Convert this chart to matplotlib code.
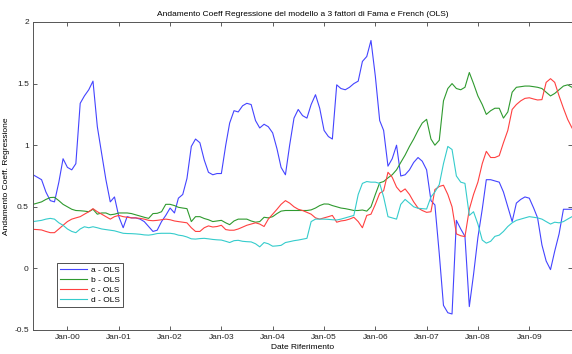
import numpy as np
import pandas as pd
import matplotlib
matplotlib.use('Agg')
import matplotlib.pyplot as plt
import matplotlib.dates as mdates

# monthly regression coefficients, May 1999 - Nov 2009
dates = pd.date_range('1999-05-01', periods=127, freq='MS')

coef_a = [0.76, 0.74, 0.72, 0.62, 0.55, 0.54, 0.70, 0.89, 0.82, 0.80,
          0.85, 1.34, 1.40, 1.45, 1.52, 1.15, 0.93, 0.72, 0.54, 0.58,
          0.42, 0.33, 0.42, 0.41, 0.41, 0.40, 0.38, 0.34, 0.30, 0.31,
          0.38, 0.43, 0.49, 0.45, 0.57, 0.60, 0.73, 0.99, 1.05, 1.02,
          0.88, 0.78, 0.76, 0.77, 0.77, 1.00, 1.18, 1.28, 1.27, 1.32,
          1.34, 1.33, 1.20, 1.14, 1.17, 1.15, 1.10, 0.97, 0.82, 0.76,
          1.00, 1.22, 1.29, 1.24, 1.22, 1.33, 1.41, 1.30, 1.12, 1.07,
          1.05, 1.49, 1.46, 1.45, 1.47, 1.50, 1.52, 1.68, 1.72, 1.85,
          1.56, 1.20, 1.12, 0.83, 0.89, 1.00, 0.75, 0.76, 0.80, 0.86,
          0.90, 0.87, 0.80, 0.55, 0.515, 0.12, -0.30, -0.36, -0.37, 0.39,
          0.32, 0.26, -0.31, -0.05, 0.25, 0.48, 0.72, 0.72, 0.71, 0.70,
          0.62, 0.50, 0.38, 0.53, 0.56, 0.58, 0.57, 0.49, 0.41, 0.19,
          0.06, -0.01, 0.14, 0.28, 0.48, 0.48, 0.48]

coef_b = [0.52, 0.53, 0.54, 0.56, 0.575, 0.577, 0.55, 0.52, 0.50, 0.48,
          0.47, 0.468, 0.465, 0.46, 0.48, 0.44, 0.45, 0.45, 0.435, 0.44,
          0.45, 0.45, 0.45, 0.445, 0.435, 0.425, 0.415, 0.406, 0.445, 0.447,
          0.46, 0.52, 0.52, 0.51, 0.496, 0.49, 0.485, 0.38, 0.42, 0.42,
          0.405, 0.395, 0.38, 0.385, 0.39, 0.37, 0.355, 0.385, 0.40, 0.40,
          0.40, 0.385, 0.375, 0.38, 0.415, 0.41, 0.42, 0.445, 0.465, 0.47,
          0.47, 0.47, 0.47, 0.47, 0.47, 0.475, 0.49, 0.51, 0.523, 0.522,
          0.51, 0.50, 0.49, 0.485, 0.478, 0.47, 0.47, 0.474, 0.465, 0.50,
          0.60, 0.695, 0.705, 0.735, 0.76, 0.80, 0.86, 0.92, 0.99, 1.05,
          1.12, 1.18, 1.21, 1.05, 1.00, 1.04, 1.36, 1.46, 1.50, 1.46,
          1.45, 1.47, 1.59, 1.50, 1.40, 1.33, 1.25, 1.28, 1.30, 1.30,
          1.22, 1.27, 1.43, 1.47, 1.475, 1.48, 1.48, 1.475, 1.47, 1.46,
          1.43, 1.40, 1.42, 1.45, 1.48, 1.49, 1.47]

coef_c = [0.317, 0.315, 0.312, 0.30, 0.29, 0.29, 0.32, 0.35, 0.38, 0.40,
          0.41, 0.42, 0.44, 0.46, 0.485, 0.46, 0.44, 0.42, 0.40, 0.42,
          0.43, 0.42, 0.415, 0.41, 0.41, 0.406, 0.40, 0.39, 0.387, 0.39,
          0.395, 0.40, 0.395, 0.385, 0.38, 0.375, 0.37, 0.33, 0.30, 0.30,
          0.33, 0.345, 0.336, 0.34, 0.35, 0.315, 0.31, 0.31, 0.32, 0.335,
          0.35, 0.36, 0.37, 0.36, 0.34, 0.40, 0.44, 0.48, 0.52, 0.55,
          0.53, 0.50, 0.48, 0.47, 0.455, 0.44, 0.41, 0.40, 0.41, 0.42,
          0.43, 0.375, 0.385, 0.39, 0.40, 0.415, 0.38, 0.33, 0.43, 0.44,
          0.52, 0.61, 0.63, 0.78, 0.74, 0.66, 0.62, 0.645, 0.60, 0.54,
          0.49, 0.47, 0.455, 0.46, 0.64, 0.665, 0.675, 0.60, 0.50, 0.28,
          0.265, 0.258, 0.48, 0.60, 0.70, 0.85, 0.95, 0.90, 0.90, 0.915,
          1.02, 1.12, 1.29, 1.33, 1.36, 1.38, 1.385, 1.375, 1.367, 1.37,
          1.51, 1.54, 1.51, 1.40, 1.30, 1.21, 1.14]

coef_d = [0.38, 0.385, 0.39, 0.40, 0.406, 0.40, 0.37, 0.35, 0.32, 0.30,
          0.29, 0.32, 0.338, 0.33, 0.338, 0.33, 0.32, 0.315, 0.31, 0.305,
          0.295, 0.285, 0.283, 0.282, 0.28, 0.277, 0.272, 0.27, 0.275, 0.283,
          0.285, 0.285, 0.285, 0.28, 0.27, 0.265, 0.255, 0.24, 0.238, 0.242,
          0.244, 0.24, 0.235, 0.232, 0.23, 0.22, 0.21, 0.225, 0.228, 0.22,
          0.217, 0.215, 0.20, 0.175, 0.21, 0.20, 0.18, 0.183, 0.187, 0.21,
          0.217, 0.225, 0.23, 0.237, 0.244, 0.38, 0.40, 0.40, 0.40, 0.398,
          0.395, 0.393, 0.40, 0.41, 0.42, 0.43, 0.60, 0.69, 0.705, 0.70,
          0.70, 0.69, 0.58, 0.42, 0.41, 0.40, 0.52, 0.56, 0.53, 0.50,
          0.488, 0.485, 0.482, 0.58, 0.62, 0.68, 0.85, 0.99, 0.965, 0.75,
          0.70, 0.69, 0.43, 0.46, 0.36, 0.23, 0.205, 0.22, 0.26, 0.27,
          0.30, 0.34, 0.37, 0.39, 0.40, 0.41, 0.42, 0.415, 0.41, 0.40,
          0.38, 0.36, 0.375, 0.37, 0.38, 0.40, 0.42]

series_names = ['a - OLS', 'b - OLS', 'c - OLS', 'd - OLS']
series_colors = ['#4444ff', '#2f9a2f', '#ff4040', '#35cccc']

ytick_values = [-0.5, 0, 0.5, 1, 1.5, 2]
ytick_labels = ['-0.5', '0', '0.5', '1', '1.5', '2']
xtick_years = list(range(2000, 2010))

plt.rcParams['font.family'] = ['Liberation Sans', 'DejaVu Sans']
plt.rcParams['font.size'] = 6

fig = plt.figure(figsize=(5.72, 3.54), dpi=100)
fig.patch.set_facecolor('white')
ax = fig.add_axes([33 / 572, 24 / 354, 539 / 572, 308 / 354])

for vals, name, col in zip([coef_a, coef_b, coef_c, coef_d], series_names, series_colors):
    ax.plot(dates, vals, color=col, linewidth=0.8, label=name)

ax.set_xlim(dates[0], dates[-1])
ax.set_ylim(-0.5, 2)
ax.set_yticks(ytick_values)
ax.set_yticklabels(ytick_labels)
ax.set_xticks([pd.Timestamp(year=y, month=1, day=1) for y in xtick_years])
ax.xaxis.set_major_formatter(mdates.DateFormatter('%b-%y'))

ax.tick_params(direction='in', length=3, width=0.6, colors='#444444',
               labelcolor='#222222', top=True, right=True, pad=3)
for sp in ax.spines.values():
    sp.set_color('#555555')
    sp.set_linewidth(0.7)

ax.set_title('Andamento Coeff Regressione del modello a 3 fattori di Fama e French (OLS)',
             fontsize=6, pad=4)
ax.set_xlabel('Date Riferimento', fontsize=6, labelpad=2)
ax.set_ylabel('Andamento Coeff. Regressione', fontsize=6)
ax.yaxis.set_label_coords(-0.042, 0.5)

leg = ax.legend(loc='lower left', bbox_to_anchor=(0.044, 0.075), fontsize=6,
                handlelength=3.2, handletextpad=0.5, borderpad=0.4,
                borderaxespad=0, labelspacing=0.25, fancybox=False,
                framealpha=1, edgecolor='#333333')
leg.get_frame().set_linewidth(0.6)

fig.savefig('out.png', dpi=100, facecolor='white')
